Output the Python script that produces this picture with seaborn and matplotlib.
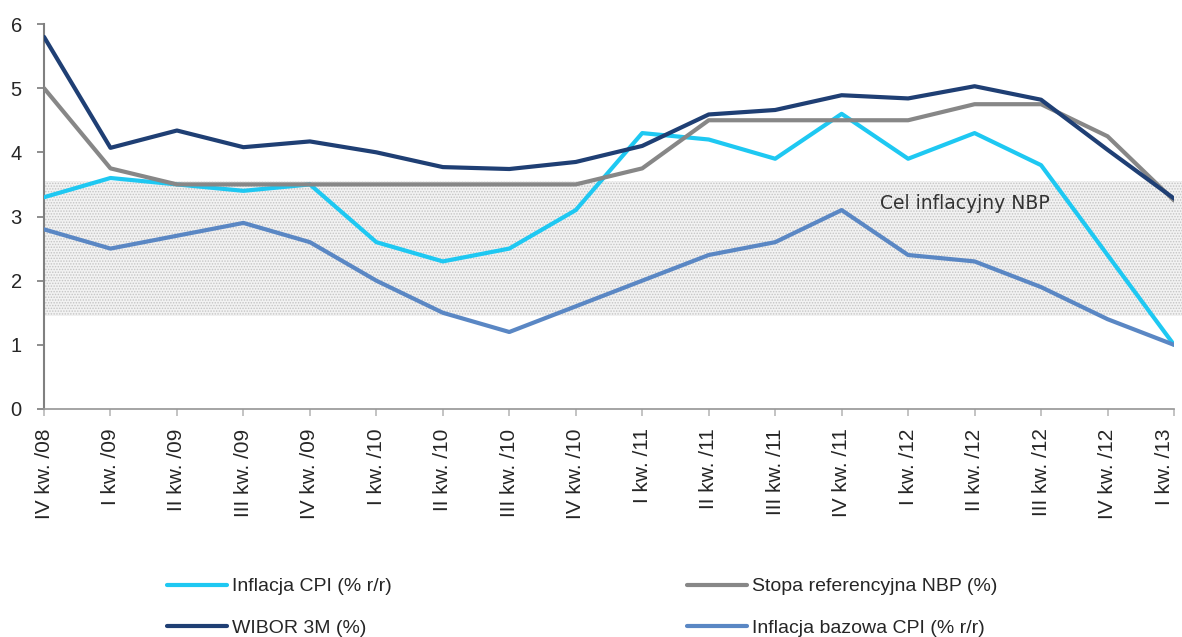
import numpy as np
import pandas as pd
import matplotlib
matplotlib.use("Agg")
import matplotlib.pyplot as plt
import seaborn as sns

sns.set_theme(style="white")
plt.rcParams['font.family'] = ['Liberation Sans', 'DejaVu Sans']
plt.rcParams['hatch.color'] = '#c4c4c4'
plt.rcParams['hatch.linewidth'] = 0.7

quarters = ["IV kw. /08", "I kw. /09", "II kw. /09", "III kw. /09", "IV kw. /09",
            "I kw. /10", "II kw. /10", "III kw. /10", "IV kw. /10",
            "I kw. /11", "II kw. /11", "III kw. /11", "IV kw. /11",
            "I kw. /12", "II kw. /12", "III kw. /12", "IV kw. /12", "I kw. /13"]

cpi = [3.3, 3.6, 3.5, 3.4, 3.5, 2.6, 2.3, 2.5, 3.1, 4.3, 4.2, 3.9, 4.6, 3.9, 4.3, 3.8, 2.4, 1.0]
ref_rate = [5.0, 3.75, 3.5, 3.5, 3.5, 3.5, 3.5, 3.5, 3.5, 3.75, 4.5, 4.5, 4.5, 4.5, 4.75, 4.75, 4.25, 3.25]
wibor = [5.8, 4.07, 4.34, 4.08, 4.17, 4.0, 3.77, 3.74, 3.85, 4.1, 4.59, 4.66, 4.89, 4.84, 5.03, 4.82, 4.04, 3.28]
core = [2.8, 2.5, 2.7, 2.9, 2.6, 2.0, 1.5, 1.2, 1.6, 2.0, 2.4, 2.6, 3.1, 2.4, 2.3, 1.9, 1.4, 1.0]

target_low, target_high = 1.45, 3.55

series = {
    "Inflacja CPI (% r/r)": cpi,
    "Stopa referencyjna NBP (%)": ref_rate,
    "WIBOR 3M (%)": wibor,
    "Inflacja bazowa CPI (% r/r)": core,
}
colors = {
    "Inflacja CPI (% r/r)": "#1ec8f2",
    "Stopa referencyjna NBP (%)": "#878787",
    "WIBOR 3M (%)": "#1f3f74",
    "Inflacja bazowa CPI (% r/r)": "#5a87c4",
}

df = pd.concat([
    pd.DataFrame({"x": np.arange(len(quarters)), "value": v, "series": k})
    for k, v in series.items()
])

fig = plt.figure(figsize=(11.82, 6.37), dpi=100)
ax = fig.add_axes([44 / 1182, 1 - 409 / 637, (1174 - 44) / 1182, (409 - 24) / 637])

# inflation target band
ax.axhspan(target_low, target_high, xmin=0, xmax=1.01, facecolor='#f2f2f2',
           edgecolor='#c4c4c4', hatch='......', linewidth=0, zorder=0, clip_on=False)
ax.text(12.58, 3.2, "Cel inflacyjny NBP", fontsize=13.5, color='#333333',
        family=['DejaVu Sans'], va='center')

sns.lineplot(data=df, x="x", y="value", hue="series", palette=colors,
             linewidth=3, ax=ax, legend=False, zorder=3)

ax.set_xlim(0, len(quarters) - 1)
ax.set_ylim(0, 6)
ax.set_yticks(range(0, 7))
ax.set_xticks(np.arange(len(quarters)))
ax.set_xticklabels(quarters, rotation=90, fontsize=15)
ax.get_xticklabels()[-1].set_horizontalalignment('right')
ax.tick_params(axis='y', labelsize=14.5, length=5, color='#808080', direction='out', left=True, pad=11)
ax.tick_params(axis='x', length=5, color='#bbbbbb', direction='out', bottom=True, pad=9)
ax.set_xlabel("")
ax.set_ylabel("")
for s in ['top', 'right']:
    ax.spines[s].set_visible(False)
ax.spines['left'].set_color('#808080')
ax.spines['left'].set_linewidth(1.5)
ax.spines['bottom'].set_color('#999999')

# legend below chart (column-first order gives rows CPI/Stopa, WIBOR/bazowa)
order = ["Inflacja CPI (% r/r)", "WIBOR 3M (%)",
         "Stopa referencyjna NBP (%)", "Inflacja bazowa CPI (% r/r)"]
handles = [plt.Line2D([], [], color=colors[k], lw=3) for k in order]
leg = fig.legend(handles, order, loc='upper left', ncol=2,
                 bbox_to_anchor=(157 / 1182, 1 - 568 / 637), frameon=False, fontsize=14,
                 handlelength=3.1, handletextpad=0.25, columnspacing=15.2,
                 labelspacing=1.25, borderpad=0)

fig.savefig("out.png", dpi=100)
